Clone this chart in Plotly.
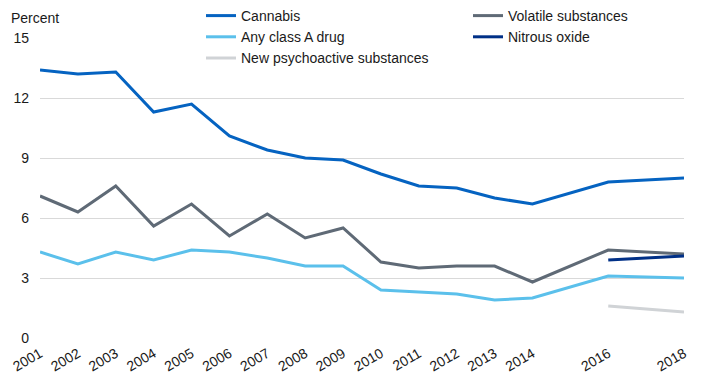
import plotly.graph_objects as go

years = [2001, 2002, 2003, 2004, 2005, 2006, 2007, 2008, 2009, 2010, 2011, 2012, 2013, 2014, 2016, 2018]
cannabis = [13.4, 13.2, 13.3, 11.3, 11.7, 10.1, 9.4, 9.0, 8.9, 8.2, 7.6, 7.5, 7.0, 6.7, 7.8, 8.0]
volatile = [7.1, 6.3, 7.6, 5.6, 6.7, 5.1, 6.2, 5.0, 5.5, 3.8, 3.5, 3.6, 3.6, 2.8, 4.4, 4.2]
class_a = [4.3, 3.7, 4.3, 3.9, 4.4, 4.3, 4.0, 3.6, 3.6, 2.4, 2.3, 2.2, 1.9, 2.0, 3.1, 3.0]
nitrous_years = [2016, 2018]
nitrous = [3.9, 4.1]
nps_years = [2016, 2018]
nps = [1.6, 1.3]
y_ticks = [0, 3, 6, 9, 12, 15]

font_family = "Liberation Sans, Arial, sans-serif"
text_color = "#1a1a1a"

fig = go.Figure()
fig.add_trace(go.Scatter(x=years, y=cannabis, name="Cannabis", mode="lines",
                         line=dict(color="#0563c1", width=3), legend="legend"))
fig.add_trace(go.Scatter(x=years, y=class_a, name="Any class A drug", mode="lines",
                         line=dict(color="#5bc0eb", width=3), legend="legend"))
fig.add_trace(go.Scatter(x=nps_years, y=nps, name="New psychoactive substances", mode="lines",
                         line=dict(color="#d0d3d6", width=3), legend="legend"))
fig.add_trace(go.Scatter(x=years, y=volatile, name="Volatile substances", mode="lines",
                         line=dict(color="#5f6a76", width=3), legend="legend2"))
fig.add_trace(go.Scatter(x=nitrous_years, y=nitrous, name="Nitrous oxide", mode="lines",
                         line=dict(color="#003087", width=3), legend="legend2"))

legend_common = dict(
    orientation="v", bgcolor="rgba(0,0,0,0)", font=dict(size=14, color=text_color, family=font_family),
    xanchor="left", yanchor="top", yref="paper", xref="container", traceorder="normal",
    itemclick=False, itemdoubleclick=False,
)

fig.update_layout(
    width=710, height=385,
    margin=dict(l=32, r=34, t=30, b=55, autoexpand=False),
    paper_bgcolor="white", plot_bgcolor="white",
    font=dict(family=font_family, size=14, color=text_color),
    showlegend=True,
    legend=dict(**legend_common, x=193 / 710, y=338 / 300),
    legend2=dict(**legend_common, x=460 / 710, y=338 / 300),
    xaxis=dict(
        range=[2001, 2018], tickmode="array", tickvals=years, ticktext=[str(y) for y in years],
        tickangle=-30, showgrid=False, zeroline=False, showline=False, ticks="",
        tickfont=dict(size=14, color=text_color), automargin=False, ticklabelstandoff=4,
    ),
    yaxis=dict(
        range=[0, 15], tickmode="array", tickvals=y_ticks, ticktext=[str(v) for v in y_ticks],
        showgrid=True, gridcolor="#d9d9d9", gridwidth=1, zeroline=False, showline=False,
        ticks="", ticklabelstandoff=10, tickfont=dict(size=14, color=text_color), automargin=False,
    ),
    annotations=[dict(text="Percent", x=-31 / 644, y=(338 - 18) / 300, xref="paper", yref="paper",
                      xanchor="left", yanchor="middle", showarrow=False,
                      font=dict(size=14, color=text_color))],
)

fig.write_html("out.html")
